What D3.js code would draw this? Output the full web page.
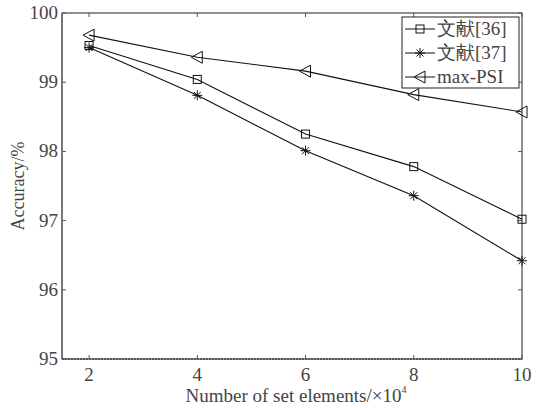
<!DOCTYPE html>
<html>
<head>
<meta charset="utf-8">
<script src="https://cdn.jsdelivr.net/npm/d3@7"></script>
<style>
  body { margin: 0; background: #fff; }
  text { font-family: "Liberation Serif", "DejaVu Serif", serif; fill: #444; }
</style>
</head>
<body>
<div id="container"></div>
<script>
// values
const xValues = [2, 4, 6, 8, 10];
const ref36 = [99.53, 99.04, 98.25, 97.78, 97.02];
const ref37 = [99.50, 98.81, 98.01, 97.36, 96.42];
const maxPsi = [99.68, 99.36, 99.16, 98.82, 98.57];
const seriesNames = ['文献[36]', '文献[37]', 'max-PSI'];
const xTicks = [2, 4, 6, 8, 10];
const yTicks = [95, 96, 97, 98, 99, 100];

const W = 542, H = 408;
const margin = { left: 62, right: 20, top: 13, bottom: 49 };

const svg = d3.select('#container').append('svg')
  .attr('width', W)
  .attr('height', H);

const x = d3.scaleLinear().domain([1.5, 10]).range([margin.left, W - margin.right]);
const y = d3.scaleLinear().domain([95, 100]).range([H - margin.bottom, margin.top]);

const TICK = 4;

// frame
svg.append('rect')
  .attr('x', x(1.5)).attr('y', y(100))
  .attr('width', x(10) - x(1.5)).attr('height', y(95) - y(100))
  .style('fill', 'none').style('stroke', '#222').style('stroke-width', 1);
svg.append('line')
  .attr('x1', x(1.5)).attr('x2', x(1.5)).attr('y1', y(100)).attr('y2', y(95))
  .style('stroke', '#777').style('stroke-width', 2);
svg.append('line')
  .attr('x1', x(1.5)).attr('x2', x(10)).attr('y1', y(95)).attr('y2', y(95))
  .style('stroke', '#444').style('stroke-width', 1.5).style('stroke-dasharray', '2,1');

// ticks, mirrored on all sides
xTicks.forEach(t => {
  svg.append('line').attr('x1', x(t)).attr('x2', x(t)).attr('y1', y(95)).attr('y2', y(95) - TICK)
    .style('stroke', '#555');
  svg.append('line').attr('x1', x(t)).attr('x2', x(t)).attr('y1', y(100)).attr('y2', y(100) + TICK)
    .style('stroke', '#555');
  svg.append('text')
    .attr('x', x(t)).attr('y', y(95) + 22)
    .attr('text-anchor', 'middle')
    .style('font-size', '19px')
    .text(t);
});
yTicks.forEach(t => {
  svg.append('line').attr('x1', x(1.5)).attr('x2', x(1.5) + TICK).attr('y1', y(t)).attr('y2', y(t))
    .style('stroke', '#555');
  svg.append('line').attr('x1', x(10)).attr('x2', x(10) - TICK).attr('y1', y(t)).attr('y2', y(t))
    .style('stroke', '#555');
  svg.append('text')
    .attr('x', x(1.5) - 4).attr('y', y(t) + 6)
    .attr('text-anchor', 'end')
    .style('font-size', '19px')
    .text(t);
});

// axis titles
const xt = svg.append('text')
  .attr('x', 296).attr('y', 402)
  .attr('text-anchor', 'middle')
  .style('font-size', '19px')
  .text('Number of set elements/×10');
xt.append('tspan').attr('dy', -9).style('font-size', '10px').text('4');

svg.append('text')
  .attr('transform', `translate(24, ${y(97.5)}) rotate(-90)`)
  .attr('text-anchor', 'middle')
  .style('font-size', '18px')
  .text('Accuracy/%');

// series
const series = [
  { name: seriesNames[0], values: ref36, marker: 'square' },
  { name: seriesNames[1], values: ref37, marker: 'star' },
  { name: seriesNames[2], values: maxPsi, marker: 'triangle' }
];

const line = d3.line().x((d, i) => x(xValues[i])).y(d => y(d));

function drawMarker(g, kind, cx, cy) {
  if (kind === 'square') {
    g.append('rect').attr('x', cx - 4).attr('y', cy - 4).attr('width', 8).attr('height', 8)
      .style('fill', 'none').style('stroke', '#111');
  } else if (kind === 'star') {
    const r = 5;
    [[r, 0], [0, r], [r * 0.7, r * 0.7], [r * 0.7, -r * 0.7]].forEach(([dx, dy]) => {
      g.append('line').attr('x1', cx - dx).attr('x2', cx + dx).attr('y1', cy - dy).attr('y2', cy + dy)
        .style('stroke', '#111');
    });
  } else {
    g.append('path')
      .attr('d', `M ${cx - 6} ${cy} L ${cx + 5} ${cy - 6} L ${cx + 5} ${cy + 6} Z`)
      .style('fill', 'none').style('stroke', '#111');
  }
}

series.forEach(s => {
  svg.append('path')
    .attr('d', line(s.values))
    .style('fill', 'none').style('stroke', '#111').style('stroke-width', 1.1);
  const g = svg.append('g');
  s.values.forEach((v, i) => drawMarker(g, s.marker, x(xValues[i]), y(v)));
});

// legend
const lg = svg.append('g');
lg.append('rect')
  .attr('x', 402).attr('y', 17).attr('width', 117).attr('height', 71)
  .style('fill', '#fff').style('stroke', '#222');
series.forEach((s, i) => {
  const ly = 29 + i * 24;
  lg.append('line').attr('x1', 405).attr('x2', 435).attr('y1', ly).attr('y2', ly)
    .style('stroke', '#111');
  drawMarker(lg, s.marker, 420, ly);
  lg.append('text')
    .attr('x', 437).attr('y', ly + 6)
    .style('font-size', '19px')
    .text(s.name);
});
</script>
</body>
</html>
